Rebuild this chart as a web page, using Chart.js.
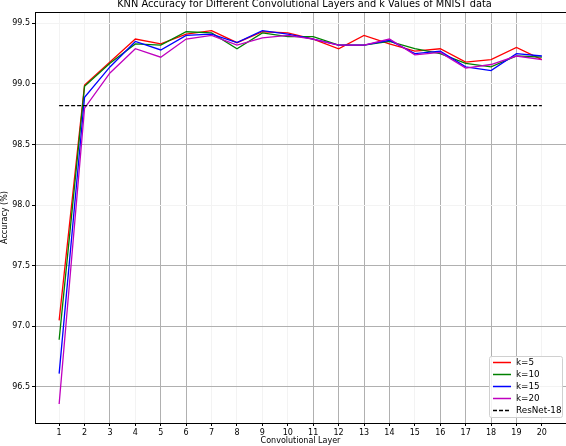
<!DOCTYPE html>
<html>
<head>
<meta charset="utf-8">
<script src="https://cdn.jsdelivr.net/npm/chart.js@4"></script>
<style>
  html, body { margin: 0; padding: 0; background: #fff; }
  #wrap { width: 566px; height: 446px; }
</style>
</head>
<body>
<div id="wrap"><canvas id="c" width="566" height="446"></canvas></div>
<script>
// ---- data ----
const layers = [1,2,3,4,5,6,7,8,9,10,11,12,13,14,15,16,17,18,19,20];
const k5  = [97.05, 98.99, 99.18, 99.37, 99.33, 99.41, 99.44, 99.34, 99.43, 99.42, 99.37, 99.29, 99.40, 99.33, 99.27, 99.29, 99.18, 99.20, 99.30, 99.20];
const k10 = [96.89, 98.98, 99.17, 99.33, 99.32, 99.43, 99.42, 99.29, 99.42, 99.39, 99.39, 99.32, 99.32, 99.35, 99.29, 99.25, 99.17, 99.14, 99.23, 99.22];
const k15 = [96.61, 98.89, 99.14, 99.35, 99.28, 99.40, 99.41, 99.34, 99.44, 99.41, 99.37, 99.32, 99.32, 99.36, 99.25, 99.27, 99.14, 99.11, 99.25, 99.23];
const k20 = [96.36, 98.80, 99.09, 99.29, 99.22, 99.37, 99.40, 99.32, 99.38, 99.40, 99.37, 99.32, 99.32, 99.37, 99.24, 99.26, 99.13, 99.16, 99.23, 99.20];
const resnet18 = 98.82;
const yTicks = [96.5, 97.0, 97.5, 98.0, 98.5, 99.0, 99.5];
const seriesLabels = ['k=5', 'k=10', 'k=15', 'k=20', 'ResNet-18'];
const titleText = 'KNN Accuracy for Different Convolutional Layers and k Values of MNIST data';
const xTitle = 'Convolutional Layer';
const yTitle = 'Accuracy (%)';

// ---- style ----
const FONT = '"DejaVu Sans", sans-serif';
const strongX = [3,5,6,11,12,13,14,16,17,18,19];
const strongY = [96.5, 97.0, 97.5, 98.5];
const GRID = '#b0b0b0', GRID_FAINT = '#f3f3f3';

const pts = arr => layers.map((x, i) => ({x: x, y: arr[i]}));
function lineDs(label, arr, color, order) {
  return { label, data: pts(arr), borderColor: color, backgroundColor: color,
           borderWidth: 1.3, pointRadius: 0, tension: 0, fill: false, order };
}

const datasets = [
  lineDs(seriesLabels[0], k5,  '#ff0000', 5),
  lineDs(seriesLabels[1], k10, '#008000', 4),
  lineDs(seriesLabels[2], k15, '#0000ff', 3),
  lineDs(seriesLabels[3], k20, '#bf00bf', 2),
  { label: seriesLabels[4],
    data: [{x: layers[0], y: resnet18}, {x: layers[layers.length-1], y: resnet18}],
    borderColor: '#000', backgroundColor: '#000', borderWidth: 1.3, borderDash: [4, 2],
    pointRadius: 0, fill: false, order: 1 }
];

const decor = {
  id: 'decor',
  afterDraw(chart) {
    const ctx = chart.ctx, a = chart.chartArea;
    ctx.save();
    // top spine
    ctx.strokeStyle = '#000'; ctx.lineWidth = 1;
    ctx.beginPath(); ctx.moveTo(a.left, a.top + 0.5); ctx.lineTo(a.right, a.top + 0.5); ctx.stroke();
    // title
    ctx.fillStyle = '#000';
    ctx.font = '9.8px ' + FONT;
    ctx.textAlign = 'center'; ctx.textBaseline = 'alphabetic';
    ctx.fillText(titleText, (a.left + a.right) / 2 + 4, 7.3);
    // legend
    const bx = 489, by = 356, bw = 73, bh = 61;
    ctx.fillStyle = 'rgba(255,255,255,0.85)';
    ctx.strokeStyle = '#d0d0d0'; ctx.lineWidth = 1;
    ctx.beginPath();
    if (ctx.roundRect) ctx.roundRect(bx + 0.5, by + 0.5, bw, bh, 2); else ctx.rect(bx + 0.5, by + 0.5, bw, bh);
    ctx.fill(); ctx.stroke();
    ctx.font = '8.8px ' + FONT; ctx.textAlign = 'left'; ctx.textBaseline = 'middle';
    chart.data.datasets.forEach((ds, i) => {
      const y = 362.5 + i * 12;
      ctx.strokeStyle = ds.borderColor; ctx.lineWidth = 1.5;
      ctx.setLineDash(ds.borderDash || []);
      ctx.beginPath(); ctx.moveTo(493, y); ctx.lineTo(511, y); ctx.stroke();
      ctx.setLineDash([]);
      ctx.fillStyle = '#000';
      ctx.fillText(ds.label, 516, y);
    });
    ctx.restore();
  }
};

new Chart(document.getElementById('c'), {
  type: 'line',
  data: { datasets },
  options: {
    responsive: false,
    devicePixelRatio: 1,
    animation: false,
    layout: { padding: { top: 12, left: 0, right: 0, bottom: 0 } },
    plugins: { legend: { display: false }, title: { display: false }, tooltip: { enabled: false } },
    scales: {
      x: {
        type: 'linear', min: 0.05, max: 20.95,
        afterBuildTicks: s => { s.ticks = layers.map(v => ({ value: v })); },
        afterFit: s => { s.height = 23; },
        grid: {
          color: c => strongX.includes(c.tick && c.tick.value) ? GRID : GRID_FAINT,
          lineWidth: 1, tickLength: 3, tickColor: '#000', drawOnChartArea: true
        },
        border: { display: true, color: '#000', width: 1 },
        ticks: { color: '#000', font: { family: FONT, size: 8 }, padding: 2, maxRotation: 0, autoSkip: false,
                 callback: v => String(v) },
        title: { display: true, text: xTitle, color: '#000', font: { family: FONT, size: 8 }, padding: { top: 0, bottom: 0 } }
      },
      y: {
        type: 'linear', min: 96.203, max: 99.593,
        afterBuildTicks: s => { s.ticks = yTicks.map(v => ({ value: v })); },
        afterFit: s => { s.width = 35; },
        grid: {
          color: c => strongY.includes(c.tick && c.tick.value) ? GRID : GRID_FAINT,
          lineWidth: 1, tickLength: 3, tickColor: '#000'
        },
        border: { display: true, color: '#000', width: 1 },
        ticks: { color: '#000', font: { family: FONT, size: 8 }, padding: 2, autoSkip: false,
                 callback: v => Number(v).toFixed(1) },
        title: { display: true, text: yTitle, color: '#000', font: { family: FONT, size: 8 }, padding: { top: 0, bottom: 0 } }
      }
    }
  },
  plugins: [decor]
});
</script>
</body>
</html>
